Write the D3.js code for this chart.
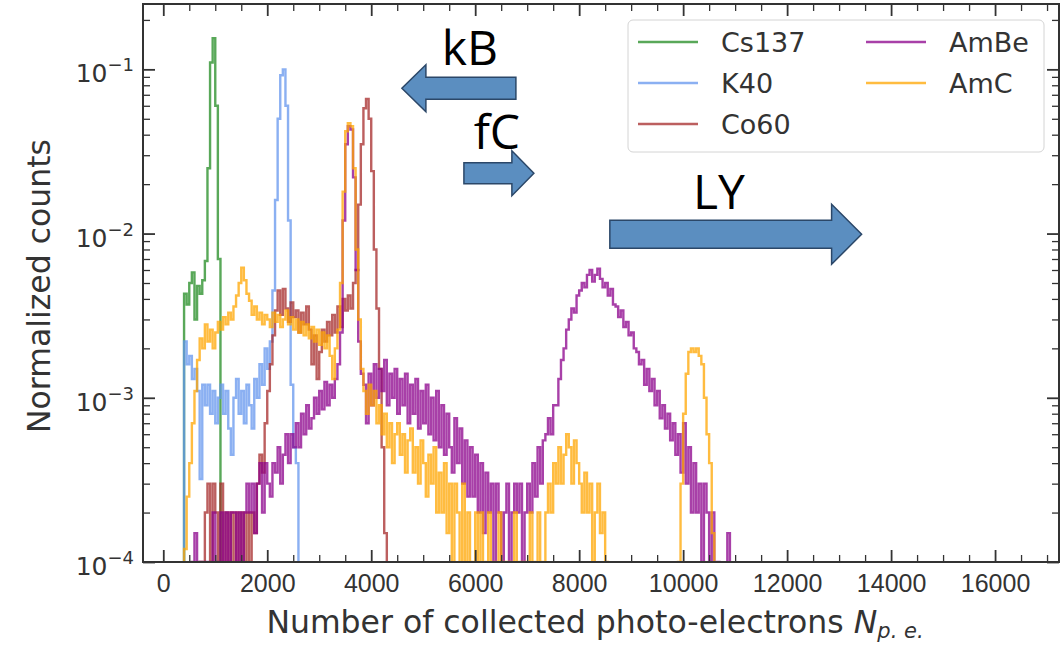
<!DOCTYPE html>
<html>
<head>
<meta charset="utf-8">
<script src="https://cdn.jsdelivr.net/npm/d3@7"></script>
<style>
  body { margin: 0; background: #fff; }
  svg { font-family: "DejaVu Sans", sans-serif; }
  .tick line { stroke: #333; }
  .tick text { fill: #333; }
</style>
</head>
<body>
<svg id="chart" width="1064" height="645"></svg>
<script>
// ------------------------------------------
//  Data (normalized counts per 50 p.e. bin)
// ------------------------------------------
const binWidth = 50
const sourceNames = ["Cs137", "K40", "Co60", "AmBe", "AmC"]
const sourceColors = ["#228b22", "#6495ed", "#a52a2a", "#8b008b", "#ffa500"]
const firstEdge = [400, 400, 700, 550, 400]

const cs137 = [4.3e-3, 3.7e-3, 5.0e-3, 5.8e-3, 3.0e-3, 4.8e-3, 4.3e-3, 5.2e-3, 6.8e-3, 0.025,
    0.11, 0.155, 0.06, 0.007]

const k40 = [
    2.2e-3, 1.6e-3, 1.8e-3, 1.3e-3, 1.5e-3, 1.1e-3, 3.2e-4, 1.2e-3, 9e-4, 1.2e-3,      // 400
    8e-4, 1.1e-3, 7e-4, 1.0e-3, 1.2e-3, 8e-4, 1.1e-3, 6.5e-4, 4.5e-4, 1.0e-3,          // 900
    1.3e-3, 8e-4, 1.1e-3, 7e-4, 1.2e-3, 9e-4, 6.5e-4, 1.3e-3, 1.0e-3, 1.6e-3,          // 1400
    1.2e-3, 2.0e-3, 1.5e-3, 2.2e-3, 4.5e-3, 0.016, 0.05, 0.092, 0.1, 0.06,             // 1900
    0.012, 1.2e-3, 5e-4, 4e-4]                                                          // 2400

const co60 = [
    1e-4, 0, 2e-4, 3e-4, 1e-4, 3e-4, 2e-4, 1e-4, 3e-4, 0,                               // 700
    2e-4, 1e-4, 2e-4, 1e-4, 2e-4, 0, 2e-4, 1e-4, 2e-4, 1e-4,                            // 1200
    2e-4, 1.5e-4, 3e-4, 4.5e-4, 3.5e-4, 7e-4, 1.1e-3, 1.6e-3, 2.4e-3, 3.4e-3,          // 1700
    4.5e-3, 3.2e-3, 4.6e-3, 3.5e-3, 2.9e-3, 3.8e-3, 3.1e-3, 3.4e-3, 2.5e-3, 3.3e-3,    // 2200
    2.8e-3, 3.6e-3, 2.6e-3, 1.6e-3, 2.4e-3, 1.3e-3, 1.9e-3, 2.6e-3, 2.2e-3, 2.9e-3,    // 2700
    2.4e-3, 3.2e-3, 2.5e-3, 3.6e-3, 2.7e-3, 4.0e-3, 3.4e-3, 4.2e-3, 3.5e-3, 5.0e-3,    // 3200
    6e-3, 0.015, 0.035, 0.058, 0.066, 0.05, 0.024, 0.008, 3.5e-3, 1.5e-3,              // 3700
    5e-4, 1.5e-4]                                                                       // 4200

const amBe = [
    1e-4, 1.5e-4, 0, 1e-4, 0, 1e-4, 0, 1e-4, 2e-4, 1e-4,                                // 550
    0, 2e-4, 1e-4, 2e-4, 1e-4, 2e-4, 2e-4, 1e-4, 2e-4, 1e-4,                            // 1050
    2e-4, 3e-4, 2e-4, 3e-4, 1.5e-4, 3e-4, 4e-4, 2e-4, 4e-4, 3e-4,                       // 1550
    2.5e-4, 4e-4, 3.5e-4, 5e-4, 3e-4, 4.5e-4, 6e-4, 4e-4, 6e-4, 5e-4,                   // 2050
    7e-4, 5e-4, 8e-4, 6e-4, 9e-4, 6.5e-4, 7.5e-4, 1e-3, 8e-4, 1.1e-3,                   // 2550
    8.5e-4, 1.25e-3, 9e-4, 1.2e-3, 1.0e-3, 1.3e-3, 1.6e-3, 2.5e-3, 0.012, 0.035,        // 3050
    0.045, 0.043, 0.022, 0.006, 2.2e-3, 1.4e-3, 1.2e-3, 7e-4, 1.4e-3, 9e-4,             // 3550
    1.6e-3, 1.0e-3, 1.5e-3, 1.1e-3, 1.7e-3, 9e-4, 1.4e-3, 1.0e-3, 1.5e-3, 8e-4,         // 4050
    1.3e-3, 9e-4, 1.4e-3, 7e-4, 1.2e-3, 8e-4, 1.3e-3, 6.5e-4, 1.1e-3, 7e-4,             // 4550
    1.2e-3, 6e-4, 1.0e-3, 5.5e-4, 1.1e-3, 5e-4, 9e-4, 4.5e-4, 8e-4, 5e-4,               // 5050
    3.5e-4, 7.5e-4, 4e-4, 6.5e-4, 3e-4, 5.5e-4, 2.5e-4, 5e-4, 2.5e-4, 4.5e-4,           // 5550
    2e-4, 4e-4, 1.5e-4, 3.5e-4, 2e-4, 3e-4, 1e-4, 3e-4, 2e-4, 1e-4,                     // 6050
    2e-4, 3e-4, 1e-4, 2e-4, 3e-4, 2e-4, 3e-4, 1e-4, 2e-4, 3e-4,                         // 6550
    2e-4, 4e-4, 2.5e-4, 5e-4, 3e-4, 5.5e-4, 6e-4, 7.5e-4, 6e-4, 9e-4,                   // 7050
    9e-4, 1.3e-3, 1.7e-3, 2.0e-3, 2.6e-3, 3.0e-3, 3.5e-3, 3.3e-3, 4.2e-3, 4.5e-3,       // 7550
    5.0e-3, 4.7e-3, 5.6e-3, 6.0e-3, 5.1e-3, 5.6e-3, 6.1e-3, 5.3e-3, 4.7e-3, 5.0e-3,     // 8050
    4.2e-3, 4.6e-3, 3.7e-3, 3.6e-3, 3.1e-3, 3.4e-3, 2.7e-3, 2.9e-3, 2.4e-3, 2.5e-3,     // 8550
    2.0e-3, 1.9e-3, 1.6e-3, 1.7e-3, 1.2e-3, 1.5e-3, 1.1e-3, 1.3e-3, 9e-4, 1.1e-3,       // 9050
    7.5e-4, 9e-4, 6.5e-4, 8e-4, 5.5e-4, 7e-4, 4.5e-4, 6e-4, 3.5e-4, 7e-4,               // 9550
    3e-4, 5e-4, 2e-4, 4e-4, 2e-4, 3e-4, 1e-4, 3e-4, 2e-4, 1e-4,                         // 10050
    2e-4, 0, 1e-4, 0, 0, 0, 1.5e-4, 0]                                                  // 10550

const amC = [
    1.2e-4, 2.5e-4, 4e-4, 7e-4, 1.1e-3, 1.7e-3, 2.3e-3, 2.0e-3, 2.8e-3, 2.2e-3,         // 400
    2.6e-3, 2.0e-3, 2.5e-3, 2.9e-3, 2.6e-3, 3.1e-3, 2.8e-3, 3.3e-3, 3.0e-3, 3.6e-3,     // 900
    4.2e-3, 5.0e-3, 6.2e-3, 5.2e-3, 4.3e-3, 3.9e-3, 3.2e-3, 3.6e-3, 3.0e-3, 3.3e-3,     // 1400
    2.8e-3, 3.2e-3, 3.0e-3, 2.7e-3, 3.3e-3, 2.9e-3, 3.2e-3, 2.7e-3, 3.0e-3, 3.4e-3,     // 1900
    2.8e-3, 3.1e-3, 2.6e-3, 3.0e-3, 2.5e-3, 2.9e-3, 2.4e-3, 2.8e-3, 2.3e-3, 2.7e-3,     // 2400
    2.2e-3, 2.6e-3, 2.1e-3, 2.5e-3, 2.0e-3, 2.4e-3, 1.8e-3, 1.3e-3, 2.0e-3, 2.6e-3,     // 2900
    5e-3, 0.018, 0.042, 0.047, 0.045, 0.025, 0.008, 3e-3, 1.5e-3, 1.1e-3,               // 3400
    8e-4, 1.2e-3, 9e-4, 1.1e-3, 7e-4, 9e-4, 6e-4, 8e-4, 5e-4, 7e-4,                     // 3900
    4e-4, 6e-4, 7e-4, 4.5e-4, 6e-4, 3.5e-4, 5.5e-4, 6.5e-4, 3.5e-4, 5e-4,               // 4400
    3e-4, 5.5e-4, 4e-4, 2.5e-4, 4.5e-4, 3e-4, 5e-4, 2e-4, 3.5e-4, 2e-4,                 // 4900
    4e-4, 1.5e-4, 3e-4, 1e-4, 3e-4, 2e-4, 0, 3e-4, 1e-4, 2e-4,                          // 5400
    1e-4, 0, 2e-4, 1e-4, 2e-4, 0, 1e-4, 2e-4, 0, 1e-4,                                  // 5900
    0, 2e-4, 0, 1e-4, 0, 1e-4, 0, 2e-4, 0, 1e-4,                                        // 6400
    0, 1e-4, 0, 2e-4, 1e-4, 0, 2e-4, 1e-4, 0, 2e-4,                                     // 6900
    3e-4, 2e-4, 4e-4, 3e-4, 5e-4, 3e-4, 4.5e-4, 6e-4, 5e-4, 3e-4,                       // 7400
    5.5e-4, 4e-4, 3e-4, 2e-4, 3.5e-4, 2e-4, 3e-4, 1e-4, 2e-4, 3e-4,                     // 7900
    1.5e-4, 2e-4, 1e-4, 0, 0, 0, 0, 0, 0, 0,                                            // 8400
    0, 0, 0, 0, 0, 0, 0, 0, 0, 0,                                                       // 8900
    0, 0, 0, 0, 0, 0, 0, 0, 0, 0,                                                       // 9400
    1e-4, 3e-4, 8e-4, 1.4e-3, 1.9e-3, 2.0e-3, 1.9e-3, 2.0e-3, 1.8e-3, 1.6e-3,           // 9900
    1.0e-3, 6e-4, 4e-4, 1.5e-4]                                                         // 10400

const sourceCounts = [cs137, k40, co60, amBe, amC]

const xMajorTicks = [0, 2000, 4000, 6000, 8000, 10000, 12000, 14000, 16000]
const yMajorTicks = [1e-4, 1e-3, 1e-2, 1e-1]
const yTickExponents = ["\u22124", "\u22123", "\u22122", "\u22121"]

// arrows drawn over the plot, in data units (tail -> tip along x, at one y level)
const annotations = [
    { label: "kB", tail: 6783, tip: 4590, level: 0.0767, textX: 5898, textY: 0.106 },
    { label: "fC", tail: 5783, tip: 7129, level: 0.0233, textX: 6417, textY: 0.0327 },
    { label: "LY", tail: 8590, tip: 13433, level: 0.0099, textX: 10687, textY: 0.0141 }
]

// ------------------------------------------
//  Chart
// ------------------------------------------
const svg = d3.select("#chart")
const margin = { top: 4, right: 5, bottom: 83, left: 143 }
const width = +svg.attr("width") - margin.left - margin.right
const height = +svg.attr("height") - margin.top - margin.bottom
const g = svg.append("g").attr("transform", `translate(${margin.left},${margin.top})`)

const x = d3.scaleLinear().domain([-390, 17230]).range([0, width])
const y = d3.scaleLog().domain([1e-4, 0.25]).range([height, 0])

g.append("clipPath").attr("id", "plot-area")
    .append("rect").attr("width", width).attr("height", height)

// step histograms; empty bins fall below the axis and get clipped
const valueY = v => v > 0 ? y(v) : height + 30
const step = d3.line().x(d => x(d[0])).y(d => valueY(d[1])).curve(d3.curveStepAfter)

function histPoints(start, counts) {
    const end = start + counts.length * binWidth
    const pts = [[start, 0]]
    counts.forEach((c, i) => pts.push([start + i * binWidth, c]))
    pts.push([end, counts[counts.length - 1]], [end, 0])
    return pts
}

g.append("g").attr("clip-path", "url(#plot-area)")
    .selectAll("path")
    .data(sourceCounts)
    .enter().append("path")
    .attr("d", (d, i) => step(histPoints(firstEdge[i], d)))
    .attr("fill", "none")
    .attr("stroke", (d, i) => sourceColors[i])
    .attr("stroke-opacity", 0.75)
    .attr("stroke-width", 2.4)

// ------------------------------------------
//  Axes (ticks point inwards on all sides)
// ------------------------------------------
const xMinor = d3.range(0, 17001, 500).filter(v => v % 2000 !== 0)
const yMinor = []
yMajorTicks.forEach(d => d3.range(2, 10).forEach(m => { if (d * m <= 0.25) yMinor.push(d * m) }))

function addAxis(axis, transform, cls) {
    const a = g.append("g").attr("class", cls).attr("transform", transform).call(axis)
    a.select(".domain").remove()
    a.selectAll(".tick line").attr("stroke-width", cls === "minor" ? 1.3 : 1.8)
    return a
}

const bottomAxis = addAxis(d3.axisBottom(x).tickValues(xMajorTicks).tickSize(-12).tickPadding(12)
    .tickFormat(d3.format("d")), `translate(0,${height})`, "major")
bottomAxis.selectAll("text").attr("font-size", 25).attr("dy", "0.71em")
addAxis(d3.axisBottom(x).tickValues(xMinor).tickSize(-7).tickFormat(""), `translate(0,${height})`, "minor")
addAxis(d3.axisTop(x).tickValues(xMajorTicks).tickSize(-12).tickFormat(""), "translate(0,0)", "major")
addAxis(d3.axisTop(x).tickValues(xMinor).tickSize(-7).tickFormat(""), "translate(0,0)", "minor")

addAxis(d3.axisLeft(y).tickValues(yMajorTicks).tickSize(-12).tickFormat(""), "translate(0,0)", "major")
addAxis(d3.axisLeft(y).tickValues(yMinor).tickSize(-7).tickFormat(""), "translate(0,0)", "minor")
addAxis(d3.axisRight(y).tickValues(yMajorTicks).tickSize(-12).tickFormat(""), `translate(${width},0)`, "major")
addAxis(d3.axisRight(y).tickValues(yMinor).tickSize(-7).tickFormat(""), `translate(${width},0)`, "minor")

// 10^n labels on the log axis
const yLabels = g.append("g").selectAll("text")
    .data(yMajorTicks)
    .enter().append("text")
    .attr("x", -9)
    .attr("y", d => y(d) + 13)
    .attr("text-anchor", "end")
    .attr("fill", "#333")
    .attr("font-size", 25)
yLabels.append("tspan").text("10")
yLabels.append("tspan").attr("dy", -11).attr("font-size", 18).text((d, i) => yTickExponents[i])

g.append("rect")
    .attr("width", width).attr("height", height)
    .attr("fill", "none").attr("stroke", "#333").attr("stroke-width", 2)

g.append("text")
    .attr("transform", "rotate(-90)")
    .attr("x", -height / 2 - 3)
    .attr("y", -93)
    .attr("text-anchor", "middle")
    .attr("fill", "#333")
    .attr("font-size", 31.5)
    .text("Normalized counts")

const xTitle = g.append("text")
    .attr("x", width / 2 - 6)
    .attr("y", height + 71)
    .attr("text-anchor", "middle")
    .attr("fill", "#333")
    .attr("font-size", 31.5)
xTitle.append("tspan").text("Number of collected photo-electrons ")
xTitle.append("tspan").attr("font-style", "italic").text("N")
xTitle.append("tspan").attr("font-style", "italic").attr("font-size", 21).attr("dy", 5).text("p. e.")

// ------------------------------------------
//  Annotation arrows
// ------------------------------------------
const arrowShape = [
    { shaft: 11, head: 23.5, headLen: 24 },
    { shaft: 10.5, head: 22.5, headLen: 22 },
    { shaft: 14, head: 30, headLen: 30 }
]

function arrowPoints(a, s) {
    const x0 = x(a.tail), x1 = x(a.tip), cy = y(a.level)
    const dir = Math.sign(x1 - x0)
    const xb = x1 - dir * s.headLen
    return [[x0, cy - s.shaft], [xb, cy - s.shaft], [xb, cy - s.head], [x1, cy],
            [xb, cy + s.head], [xb, cy + s.shaft], [x0, cy + s.shaft]]
}

const notes = g.append("g").selectAll("g").data(annotations).enter().append("g")
notes.append("polygon")
    .attr("points", (d, i) => arrowPoints(d, arrowShape[i]).map(p => p.join(",")).join(" "))
    .attr("fill", "#5b8ec0")
    .attr("stroke", "#2b4768")
    .attr("stroke-width", 1.5)
notes.append("text")
    .attr("x", d => x(d.textX))
    .attr("y", d => y(d.textY))
    .attr("text-anchor", "middle")
    .attr("font-family", "'Open Sans', sans-serif")
    .attr("font-size", 48)
    .attr("fill", "#000")
    .text(d => d.label)

// ------------------------------------------
//  Legend (two columns)
// ------------------------------------------
const legend = g.append("g").attr("transform", `translate(${628 - margin.left},${20 - margin.top})`)
legend.append("rect")
    .attr("width", 416).attr("height", 132).attr("rx", 5)
    .attr("fill", "#fff").attr("fill-opacity", 0.8)
    .attr("stroke", "#d4d4d4").attr("stroke-width", 1)

const entries = legend.selectAll(".entry")
    .data(sourceNames)
    .enter().append("g")
    .attr("class", "entry")
    .attr("transform", (d, i) => `translate(${i < 3 ? 10 : 238},${22 + (i % 3) * 41})`)
entries.append("line")
    .attr("x1", 0).attr("x2", 60)
    .attr("stroke", (d, i) => sourceColors[i])
    .attr("stroke-opacity", 0.75)
    .attr("stroke-width", 2.4)
entries.append("text")
    .attr("x", 83).attr("y", 10)
    .attr("fill", "#333")
    .attr("font-size", 27)
    .text(d => d)
</script>
</body>
</html>
